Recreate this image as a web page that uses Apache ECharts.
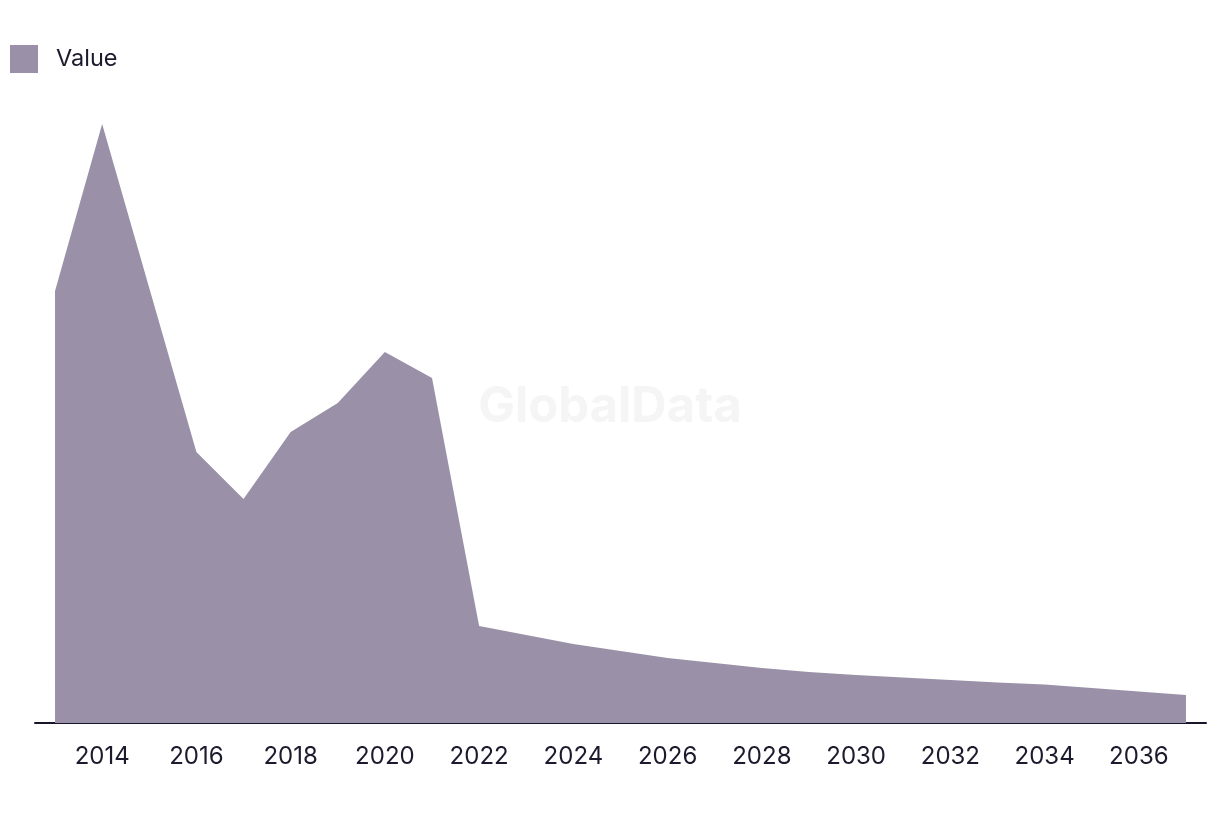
<!DOCTYPE html>
<html>
<head>
<meta charset="utf-8">
<script src="https://cdn.jsdelivr.net/npm/echarts@6/dist/echarts.min.js"></script>
<style>html,body{margin:0;padding:0;background:#fff}#c{width:1220px;height:814px}</style>
</head>
<body>
<div id="c"></div>
<script>
const years = [2013,2014,2015,2016,2017,2018,2019,2020,2021,2022,2023,2024,2025,2026,2027,2028,2029,2030,2031,2032,2033,2034,2035,2036,2037];
const values = [432,599,435,271,224,291,320,371,345,97,88,79,72,65,60,55,51,48,45.5,43,40.5,38.5,35,31.5,28];
const tickLabels = [2014,2016,2018,2020,2022,2024,2026,2028,2030,2032,2034,2036];
const seriesName = 'Value';

const chart = echarts.init(document.getElementById('c'));
chart.setOption({
  animation: false,
  backgroundColor: '#ffffff',
  textStyle: { fontFamily: 'Inter, "Noto Sans", sans-serif' },
  graphic: [{
    type: 'text', left: 'center', top: 383, z: 0,
    style: { text: 'GlobalData', fontSize: 49, fontWeight: 'bold', fill: '#f5f5f5', fontFamily: 'Inter, "Liberation Sans", sans-serif' }
  }],
  legend: {
    left: 10, top: 45, padding: 0, itemWidth: 28, itemHeight: 28, icon: 'rect',
    data: [seriesName],
    textStyle: { fontSize: 23.5, color: '#1c1b2e', padding: [0,0,0,13] }
  },
  grid: { left: 35, right: 14, top: 123, bottom: 91 },
  xAxis: {
    type: 'value', min: 2012.575, max: 2037.425,
    axisLine: { show: true, lineStyle: { color: '#16152a', width: 2 } },
    axisTick: { show: false },
    splitLine: { show: false },
    axisLabel: { customValues: tickLabels, fontSize: 24, color: '#1c1b2e', margin: 22, formatter: v => String(v) }
  },
  yAxis: { type: 'value', min: 0, max: 600, show: false, splitLine: { show: false } },
  series: [{
    name: seriesName, type: 'line', z: 2,
    data: years.map((y, i) => [y, values[i]]),
    symbol: 'none', lineStyle: { width: 0 },
    itemStyle: { color: '#9a91a9' },
    areaStyle: { color: '#9a91a9', opacity: 1 }
  }]
});
</script>
</body>
</html>
